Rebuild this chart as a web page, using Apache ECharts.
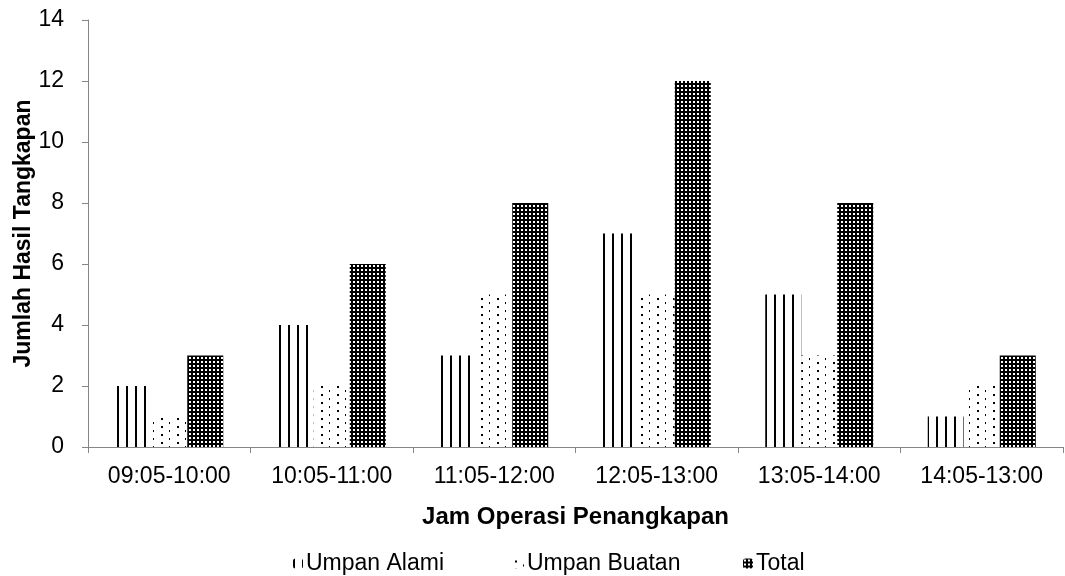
<!DOCTYPE html>
<html>
<head>
<meta charset="utf-8">
<script src="https://cdn.jsdelivr.net/npm/echarts@6/dist/echarts.min.js"></script>
<style>
  html, body { margin: 0; padding: 0; background: #fff; }
  #chart { width: 1065px; height: 576px; }
</style>
</head>
<body>
<div id="chart"></div>
<script>
// data
var categories = ["09:05-10:00", "10:05-11:00", "11:05-12:00", "12:05-13:00", "13:05-14:00", "14:05-13:00"];
var umpanAlami = [2, 4, 3, 7, 5, 1];
var umpanBuatan = [1, 2, 5, 5, 3, 2];
var total = [3, 6, 8, 12, 8, 3];
var seriesNames = ["Umpan Alami", "Umpan Buatan", "Total"];

// small canvas tiles used as fill patterns (like the excel hatch fills)
function makeTile(w, h, draw) {
  var c = document.createElement("canvas");
  c.width = w;
  c.height = h;
  var ctx = c.getContext("2d");
  draw(ctx);
  return c;
}

// vertical lines
var linesTile = makeTile(9, 4, function (ctx) {
  ctx.fillStyle = "#fff";
  ctx.fillRect(0, 0, 9, 4);
  ctx.fillStyle = "#000";
  ctx.fillRect(0, 0, 2, 4);
});

// sparse staggered dots
var dotsTile = makeTile(16, 16, function (ctx) {
  ctx.fillStyle = "#fff";
  ctx.fillRect(0, 0, 16, 16);
  ctx.fillStyle = "#000";
  ctx.fillRect(1, 2, 2, 2);
  ctx.fillRect(1, 10, 2, 2);
  ctx.fillRect(9, 6, 1, 2);
  ctx.fillRect(9, 14, 1, 2);
});

// dark fill with small white holes
var denseTile = makeTile(4, 4, function (ctx) {
  ctx.fillStyle = "#000";
  ctx.fillRect(0, 0, 4, 4);
  ctx.fillStyle = "#fff";
  ctx.fillRect(1, 1, 2, 2);
});

var chart = echarts.init(document.getElementById("chart"));

var textColor = "#000";
var fontFamily = "Liberation Sans, Arial, sans-serif";

function barSeries(name, data, tile) {
  return {
    name: name,
    type: "bar",
    data: data,
    barWidth: 36,
    barGap: "0%",
    itemStyle: {
      color: { image: tile, repeat: "repeat" }
    },
    emphasis: { disabled: true }
  };
}

function legendAt(name, left) {
  return {
    data: [name],
    left: left,
    top: 547,
    itemWidth: 10,
    itemHeight: 10,
    itemGap: 4,
    textStyle: { color: textColor, fontSize: 23, fontFamily: fontFamily, padding: [0, 0, 0, -2] }
  };
}

chart.setOption({
  animation: false,
  legend: [
    legendAt(seriesNames[0], 288),
    legendAt(seriesNames[1], 509),
    legendAt(seriesNames[2], 738)
  ],
  grid: {
    left: 88,
    right: 2,
    top: 20,
    bottom: 129
  },
  xAxis: {
    type: "category",
    data: categories,
    name: "Jam Operasi Penangkapan",
    nameLocation: "middle",
    nameGap: 58,
    nameTextStyle: { color: textColor, fontSize: 24, fontWeight: "bold", fontFamily: fontFamily },
    axisLine: { lineStyle: { color: "#868686", width: 1 } },
    axisTick: { show: true, length: 6, lineStyle: { color: "#868686" } },
    axisLabel: { color: textColor, fontSize: 23, fontFamily: fontFamily, margin: 18 },
    splitLine: { show: false }
  },
  yAxis: {
    type: "value",
    min: 0,
    max: 14,
    interval: 2,
    name: "Jumlah Hasil Tangkapan",
    nameLocation: "middle",
    nameGap: 53,
    nameMoveOverlap: false,
    nameTextStyle: { color: textColor, fontSize: 23, fontWeight: "bold", fontFamily: fontFamily },
    axisLine: { show: true, lineStyle: { color: "#868686", width: 1 } },
    axisTick: { show: true, length: 6, lineStyle: { color: "#868686" } },
    axisLabel: { color: textColor, fontSize: 23, fontFamily: fontFamily, margin: 24 },
    splitLine: { show: false }
  },
  series: [
    barSeries(seriesNames[0], umpanAlami, linesTile),
    barSeries(seriesNames[1], umpanBuatan, dotsTile),
    barSeries(seriesNames[2], total, denseTile)
  ]
});
</script>
</body>
</html>
